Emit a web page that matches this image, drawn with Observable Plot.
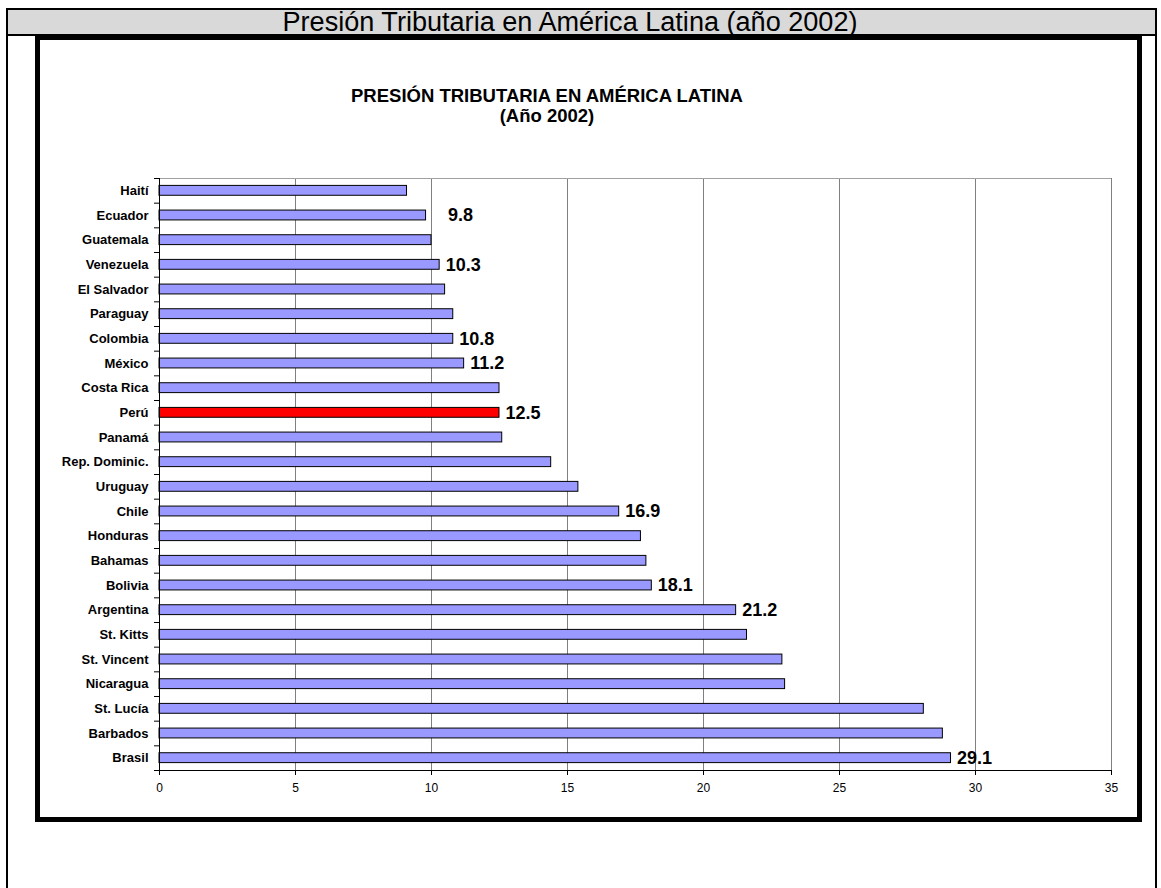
<!DOCTYPE html>
<html><head><meta charset="utf-8">
<script src="https://cdn.jsdelivr.net/npm/d3@7"></script>
<script src="https://cdn.jsdelivr.net/npm/@observablehq/plot@0.6"></script>
<style>
body{margin:0;background:#fff;font-family:"Liberation Sans",Arial,sans-serif;}
#outer{position:absolute;left:6px;top:8px;width:1151px;height:900px;border:2px solid #000;box-sizing:border-box;}
#header{position:absolute;left:6px;top:8px;width:1151px;height:28px;background:#d9d9d9;border:2px solid #000;box-sizing:border-box;}
#hsvg{position:absolute;left:0;top:0;}
#box{position:absolute;left:35px;top:35px;width:1107px;height:787px;border:5px solid #000;box-sizing:border-box;background:#fff;}
#title{position:absolute;left:247px;width:600px;top:86px;text-align:center;font-weight:bold;font-size:18.5px;line-height:20px;color:#000;}
#chart{position:absolute;left:40px;top:170px;}
#chart g[aria-label^="y-axis"] text{font-weight:bold;font-size:13px;}
#chart g[aria-label^="x-axis"] text{font-size:12px;}
</style>
</head><body>
<div id="outer"></div>
<div id="header"></div>
<svg id="hsvg" width="1161" height="40"><text x="570" y="31" text-anchor="middle" font-family="Liberation Sans, Arial, sans-serif" font-size="27" textLength="575" lengthAdjust="spacingAndGlyphs">Presión Tributaria en América Latina (año 2002)</text></svg>
<div id="box"></div>
<div id="title">PRESIÓN TRIBUTARIA EN AMÉRICA LATINA<br>(Año 2002)</div>
<div id="chart"></div>
<script>
const countries = ["Haití","Ecuador","Guatemala","Venezuela","El Salvador","Paraguay","Colombia","México","Costa Rica","Perú","Panamá","Rep. Dominic.","Uruguay","Chile","Honduras","Bahamas","Bolivia","Argentina","St. Kitts","St. Vincent","Nicaragua","St. Lucía","Barbados","Brasil"];
const values = [9.1,9.8,10.0,10.3,10.5,10.8,10.8,11.2,12.5,12.5,12.6,14.4,15.4,16.9,17.7,17.9,18.1,21.2,21.6,22.9,23.0,28.1,28.8,29.1];
const labeled = ["Ecuador","Venezuela","Colombia","México","Perú","Chile","Bolivia","Argentina","Brasil"];
const highlight = "Perú";
const xTicks = [0,5,10,15,20,25,30,35];

const data = countries.map((c,i)=>({country:c, value:values[i]}));
const H = 630, mT = 8, mB = 30;
const step = (H - mT - mB) / countries.length;
const inset = step * 0.3;
const last = countries[countries.length-1];

const chart = Plot.plot({
  width: 1095, height: H,
  marginLeft: 119, marginRight: 24, marginTop: mT, marginBottom: mB,
  style: {fontFamily: "Liberation Sans, Arial, sans-serif", fontSize: "12px", background: "transparent", color: "#000"},
  x: {domain: [0,35], ticks: xTicks, tickSize: 5, tickPadding: 8, label: null},
  y: {domain: countries, padding: 0, round: false, tickSize: 0, tickPadding: 11, label: null},
  marks: [
    Plot.ruleX(xTicks.filter(v=>v>0), {stroke: "#808080", strokeWidth: 1}),
    Plot.ruleY([countries[0]], {dy: -step/2, stroke: "#a0a0a0"}),
    Plot.barX(data.filter(d=>d.country!==highlight), {y: "country", x: "value", insetTop: inset, insetBottom: inset, fill: "#9999ff", stroke: "#000", strokeWidth: 1}),
    Plot.barX(data.filter(d=>d.country===highlight), {y: "country", x: "value", insetTop: inset, insetBottom: inset, fill: "#ff0000", stroke: "#000", strokeWidth: 1}),
    Plot.ruleX([0], {stroke: "#000"}),
    Plot.ruleY([last], {dy: step/2, stroke: "#000"}),
    Plot.ruleY(countries, {x1: 0, x2: 0, insetLeft: -5, dy: -step/2, stroke: "#000"}),
    Plot.ruleY([last], {x1: 0, x2: 0, insetLeft: -5, dy: step/2, stroke: "#000"}),
    Plot.text(data.filter(d=>labeled.includes(d.country) && d.country!=="Ecuador"), {y: "country", x: "value", text: d=>d.value.toFixed(1), textAnchor: "start", dx: 6, fontSize: 18, fontWeight: "bold", fill: "#000"}),
    Plot.text(data.filter(d=>d.country==="Ecuador"), {y: "country", x: "value", text: d=>d.value.toFixed(1), textAnchor: "start", dx: 22, fontSize: 18, fontWeight: "bold", fill: "#000"})
  ]
});
document.getElementById("chart").appendChild(chart);
</script>
</body></html>
